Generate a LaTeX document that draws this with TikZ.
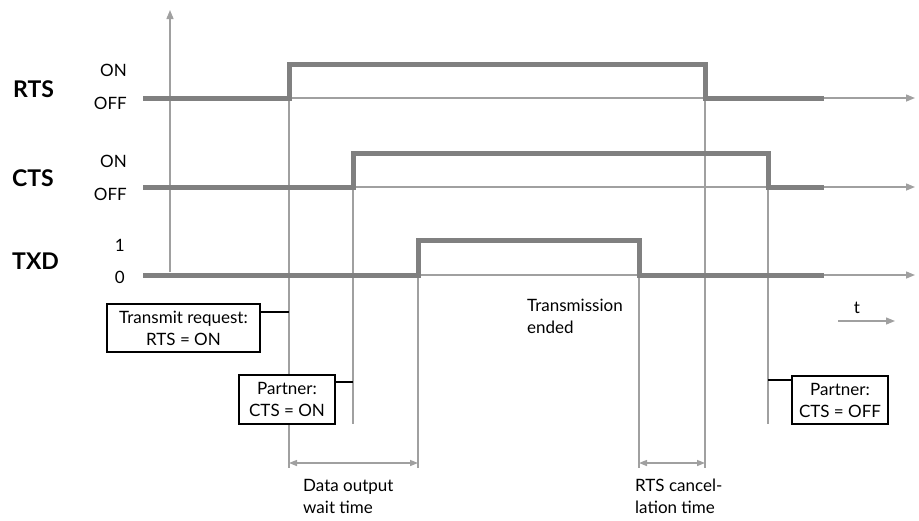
\documentclass[tikz,border=0pt]{standalone}
\usepackage{fontspec}
\setmainfont{Lato}
\usetikzlibrary{arrows.meta,calc}
\definecolor{sig}{RGB}{128,128,128}
\definecolor{thin}{RGB}{160,160,160}
\begin{document}
\begin{tikzpicture}[x=1pt,y=-1pt,
  signal/.style={draw=sig,line width=5pt,line join=miter},
  axis/.style={draw=thin,line width=1.4pt,-{Triangle[length=9pt,width=7pt]}},
  guide/.style={draw=thin,line width=1.4pt},
  dim/.style={draw=thin,line width=1.4pt,{Triangle[length=8pt,width=6pt]}-{Triangle[length=8pt,width=6pt]}},
  sname/.style={font=\fontsize{23}{26}\selectfont\bfseries,anchor=west,inner sep=0pt},
  lvl/.style={font=\fontsize{17}{20}\selectfont,anchor=east,inner sep=0pt},
  lbl/.style={font=\fontsize{17}{22}\selectfont,align=left,anchor=west,inner sep=0pt},
  boxnode/.style={draw=black,line width=1.4pt,fill=white,align=center,font=\fontsize{17}{22}\selectfont,inner sep=0pt},
  conn/.style={draw=black,line width=1.4pt}]
\useasboundingbox (0,0) rectangle (919,520);
% vertical axis
\coordinate (ya0) at (170,272);
\coordinate (ya1) at (170,10);
\draw[axis] (ya0) -- (ya1);
% time axes
\coordinate (r0) at (143,98);  \coordinate (r1) at (915,98);
\coordinate (c0) at (143,187); \coordinate (c1) at (915,187);
\coordinate (t0) at (143,275); \coordinate (t1) at (915,275);
\draw[axis] (r0) -- (r1);
\draw[axis] (c0) -- (c1);
\draw[axis] (t0) -- (t1);
% guide lines
\coordinate (g1a) at (289,64);  \coordinate (g1b) at (289,468);
\coordinate (g2a) at (353,153); \coordinate (g2b) at (353,424);
\coordinate (g3a) at (418,240); \coordinate (g3b) at (418,468);
\coordinate (g4a) at (639,240); \coordinate (g4b) at (639,468);
\coordinate (g5a) at (705,64);  \coordinate (g5b) at (705,468);
\coordinate (g6a) at (768,153); \coordinate (g6b) at (768,424);
\foreach \i in {1,...,6} \draw[guide] (g\i a) -- (g\i b);
% signals
\draw[signal] (r0) -- (289,98) -- (289,64) -- (705,64) -- (705,98) -- (824,98);
\draw[signal] (c0) -- (353,187) -- (353,153) -- (768,153) -- (768,187) -- (824,187);
\draw[signal] (t0) -- (418,275) -- (418,240) -- (639,240) -- (639,275) -- (824,275);
% signal names
\node[sname] (nrts) at (13,89) {RTS};
\node[sname] (ncts) at (12,178) {CTS};
\node[sname] (ntxd) at (12,261) {TXD};
\node[lvl] (ron) at (127,70) {ON};
\node[lvl] (roff) at (127,103) {OFF};
\node[lvl] (con) at (127,161) {ON};
\node[lvl] (coff) at (127,194) {OFF};
\node[lvl] (t1l) at (125,245) {1};
\node[lvl] (t0l) at (125,277) {0};
% boxes
\node[boxnode,minimum width=153pt,minimum height=48pt] (treq) at (183.5,328) {Transmit request:\\RTS = ON};
\node[boxnode,minimum width=96pt,minimum height=49pt] (pon) at (287,399.5) {Partner:\\CTS = ON};
\node[boxnode,minimum width=96pt,minimum height=48pt] (poff) at (840,400) {Partner:\\CTS = OFF};
\coordinate (k1) at (289,312);
\coordinate (k2) at (353,382);
\coordinate (k3) at (768,380);
\draw[conn] (treq.east |- k1) -- (k1);
\draw[conn] (pon.east |- k2) -- (k2);
\draw[conn] (k3) -- (poff.west |- k3);
% dimension arrows
\coordinate (d1a) at (289,463); \coordinate (d1b) at (418,463);
\coordinate (d2a) at (639,463); \coordinate (d2b) at (705,463);
\draw[dim] (d1a) -- (d1b);
\draw[dim] (d2a) -- (d2b);
% labels
\node[lbl] (tend) at (527,316) {Transmission\\ended};
\node[lbl] (dowt) at (303,496) {Data output\\wait time};
\node[lbl] (rtsc) at (635,496) {RTS cancel-\\lation time};
% t arrow
\coordinate (ta0) at (838,321); \coordinate (ta1) at (895,321);
\draw[axis,line width=1.2pt] (ta0) -- (ta1);
\node[font=\fontsize{17}{20}\selectfont,inner sep=0pt] (tl) at (857,308) {t};
\end{tikzpicture}
\end{document}
